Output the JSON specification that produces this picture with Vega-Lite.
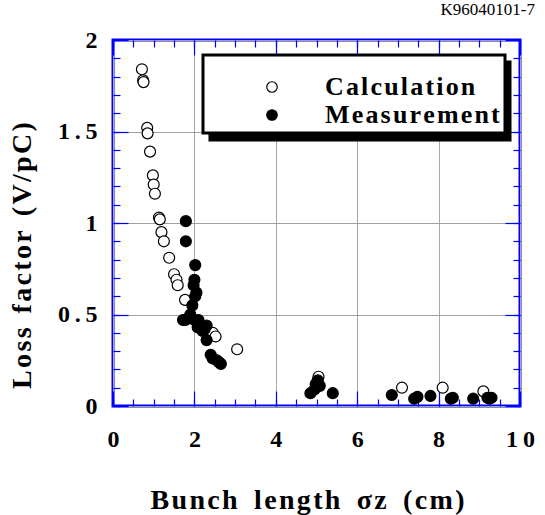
{
  "$schema": "https://vega.github.io/schema/vega-lite/v6.json",
  "width": 407,
  "height": 366,
  "autosize": {"type": "none"},
  "padding": {"left": 113, "top": 40, "right": 25, "bottom": 109},
  "background": "white",
  "title": {"text": "K96040101-7", "anchor": "end", "frame": "group", "font": "Liberation Serif", "fontSize": 17, "fontWeight": "normal", "color": "black", "dx": 15, "offset": 9},
  "config": {
    "view": {"stroke": "#0000ff", "strokeWidth": 3},
    "axis": {"labelFont": "Liberation Serif", "labelFontWeight": "bold", "labelColor": "black", "titleFont": "Liberation Serif", "titleFontWeight": "bold", "titleColor": "black", "tickColor": "#0000ff", "tickWidth": 1.2, "domain": false},
    "legend": {"strokeColor": "black", "strokeWidth": 3, "fillColor": "white"}
  },
  "datasets": {
    "pts": [
      {"x": 0.71, "y": 1.84, "series": "Calculation"},
      {"x": 0.74, "y": 1.78, "series": "Calculation"},
      {"x": 0.75, "y": 1.77, "series": "Calculation"},
      {"x": 0.84, "y": 1.52, "series": "Calculation"},
      {"x": 0.85, "y": 1.49, "series": "Calculation"},
      {"x": 0.91, "y": 1.39, "series": "Calculation"},
      {"x": 0.98, "y": 1.26, "series": "Calculation"},
      {"x": 1.0, "y": 1.21, "series": "Calculation"},
      {"x": 1.03, "y": 1.16, "series": "Calculation"},
      {"x": 1.13, "y": 1.03, "series": "Calculation"},
      {"x": 1.15, "y": 1.02, "series": "Calculation"},
      {"x": 1.19, "y": 0.95, "series": "Calculation"},
      {"x": 1.25, "y": 0.9, "series": "Calculation"},
      {"x": 1.38, "y": 0.81, "series": "Calculation"},
      {"x": 1.5, "y": 0.72, "series": "Calculation"},
      {"x": 1.56, "y": 0.69, "series": "Calculation"},
      {"x": 1.59, "y": 0.66, "series": "Calculation"},
      {"x": 1.77, "y": 0.58, "series": "Calculation"},
      {"x": 2.45, "y": 0.4, "series": "Calculation"},
      {"x": 2.52, "y": 0.38, "series": "Calculation"},
      {"x": 3.05, "y": 0.31, "series": "Calculation"},
      {"x": 5.05, "y": 0.16, "series": "Calculation"},
      {"x": 7.1, "y": 0.1, "series": "Calculation"},
      {"x": 8.1, "y": 0.1, "series": "Calculation"},
      {"x": 9.1, "y": 0.08, "series": "Calculation"},
      {"x": 1.79, "y": 1.01, "series": "Measurement"},
      {"x": 1.79, "y": 0.9, "series": "Measurement"},
      {"x": 2.02, "y": 0.77, "series": "Measurement"},
      {"x": 2.0, "y": 0.69, "series": "Measurement"},
      {"x": 1.98, "y": 0.66, "series": "Measurement"},
      {"x": 2.05, "y": 0.62, "series": "Measurement"},
      {"x": 2.02, "y": 0.6, "series": "Measurement"},
      {"x": 1.95, "y": 0.55, "series": "Measurement"},
      {"x": 1.9, "y": 0.5, "series": "Measurement"},
      {"x": 1.78, "y": 0.47, "series": "Measurement"},
      {"x": 1.72, "y": 0.47, "series": "Measurement"},
      {"x": 1.85, "y": 0.48, "series": "Measurement"},
      {"x": 2.0, "y": 0.47, "series": "Measurement"},
      {"x": 2.1, "y": 0.47, "series": "Measurement"},
      {"x": 2.15, "y": 0.44, "series": "Measurement"},
      {"x": 2.25, "y": 0.42, "series": "Measurement"},
      {"x": 2.08, "y": 0.43, "series": "Measurement"},
      {"x": 2.3, "y": 0.44, "series": "Measurement"},
      {"x": 2.2, "y": 0.41, "series": "Measurement"},
      {"x": 2.3, "y": 0.36, "series": "Measurement"},
      {"x": 2.4, "y": 0.28, "series": "Measurement"},
      {"x": 2.45, "y": 0.26, "series": "Measurement"},
      {"x": 2.55, "y": 0.25, "series": "Measurement"},
      {"x": 2.6, "y": 0.24, "series": "Measurement"},
      {"x": 2.65, "y": 0.23, "series": "Measurement"},
      {"x": 4.85, "y": 0.07, "series": "Measurement"},
      {"x": 4.95, "y": 0.09, "series": "Measurement"},
      {"x": 5.03, "y": 0.14, "series": "Measurement"},
      {"x": 5.08, "y": 0.11, "series": "Measurement"},
      {"x": 4.98, "y": 0.12, "series": "Measurement"},
      {"x": 5.4, "y": 0.07, "series": "Measurement"},
      {"x": 6.85, "y": 0.06, "series": "Measurement"},
      {"x": 7.4, "y": 0.04, "series": "Measurement"},
      {"x": 7.48, "y": 0.05, "series": "Measurement"},
      {"x": 7.8, "y": 0.055, "series": "Measurement"},
      {"x": 8.3, "y": 0.04, "series": "Measurement"},
      {"x": 8.35, "y": 0.045, "series": "Measurement"},
      {"x": 8.85, "y": 0.04, "series": "Measurement"},
      {"x": 9.2, "y": 0.045, "series": "Measurement"},
      {"x": 9.3, "y": 0.045, "series": "Measurement"},
      {"x": 9.25, "y": 0.04, "series": "Measurement"}
    ]
  },
  "data": {"name": "pts"},
  "layer": [
    {
      "transform": [{"filter": "false"}],
      "mark": {"type": "point"},
      "encoding": {
        "x": {"field": "x", "type": "quantitative", "axis": {"orient": "bottom", "values": [0, 0.5, 1, 1.5, 2, 2.5, 3, 3.5, 4, 4.5, 5, 5.5, 6, 6.5, 7, 7.5, 8, 8.5, 9, 9.5, 10], "labels": false, "grid": false, "tickSize": -7, "title": null}},
        "y": {"field": "y", "type": "quantitative", "axis": {"orient": "left", "values": [0, 0.1, 0.2, 0.3, 0.4, 0.5, 0.6, 0.7, 0.8, 0.9, 1, 1.1, 1.2, 1.3, 1.4, 1.5, 1.6, 1.7, 1.8, 1.9, 2], "labels": false, "grid": false, "tickSize": -7, "title": null}},
        "size": {"field": "shadow", "type": "nominal", "scale": {"domain": ["Calc", "Meas"], "range": [110, 110]},
          "legend": {"orient": "none", "legendX": 97, "legendY": 22, "title": "\u00a0", "titleFontSize": 10, "titlePadding": 4, "padding": 5, "fillColor": "black", "strokeColor": "black", "labelFont": "Liberation Serif", "labelFontSize": 26, "labelFontWeight": "bold", "labelColor": "black", "labelLimit": 400, "symbolType": "circle", "symbolFillColor": "black", "symbolStrokeColor": "black", "symbolOffset": 222, "labelOffset": 42, "rowPadding": 2, "labelExpr": "''"}}
      }
    },
    {
      "mark": {"type": "point", "shape": "circle", "size": 120, "filled": true, "stroke": "black", "strokeWidth": 1.2, "opacity": 1},
      "encoding": {
        "x": {"field": "x", "type": "quantitative", "scale": {"domain": [0, 10], "nice": false, "zero": false},
          "axis": {"orient": "bottom", "values": [0, 2, 4, 6, 8, 10], "ticks": false, "grid": true, "gridColor": "#a8a8a8", "gridWidth": 1, "labelFont": "Liberation Serif", "labelFontWeight": "bold", "labelFontSize": 24, "labelPadding": 21, "labelExpr": "datum.value == 10 ? '1\u20090' : datum.label", "labelFlush": false,
            "title": "B\u200au\u200an\u200ac\u200ah\u00a0\u200a\u00a0l\u200ae\u200an\u200ag\u200at\u200ah\u00a0\u200a\u00a0\u03c3\u200az\u00a0\u200a\u00a0(\u200ac\u200am\u200a)", "titleFont": "Liberation Serif", "titleFontWeight": "bold", "titleFontSize": 28, "titleX": 194, "titleY": 94, "titleBaseline": "middle", "titleAlign": "center"}},
        "y": {"field": "y", "type": "quantitative", "scale": {"domain": [0, 2], "nice": false, "zero": false},
          "axis": {"orient": "left", "values": [0, 0.5, 1, 1.5, 2], "format": "~g", "ticks": false, "grid": true, "gridColor": "#a0a0a0", "gridWidth": 1, "labelFont": "Liberation Serif", "labelFontWeight": "bold", "labelFontSize": 24, "labelPadding": 16, "labelExpr": "replace(datum.label, '.', '\u2009.\u2009')", "labelFlush": false,
            "title": "L\u200ao\u200as\u200as\u00a0\u00a0f\u200aa\u200ac\u200at\u200ao\u200ar\u00a0\u00a0(\u200aV\u200a/\u200ap\u200aC\u200a)", "titleFont": "Liberation Serif", "titleFontWeight": "bold", "titleFontSize": 28, "titleX": -91, "titleY": 215, "titleAngle": -90, "titleBaseline": "middle", "titleAlign": "center"}},
        "fill": {"field": "series", "type": "nominal", "scale": {"domain": ["Calculation", "Measurement"], "range": ["white", "black"]},
          "legend": {"orient": "none", "legendX": 90, "legendY": 15, "title": " ", "titleFontSize": 10, "titlePadding": 4, "padding": 5, "labelFont": "Liberation Serif", "labelFontSize": 26, "labelFontWeight": "bold", "labelColor": "black", "labelLimit": 400, "symbolType": "circle", "symbolSize": 110, "symbolStrokeColor": "black", "symbolStrokeWidth": 1.2, "symbolOffset": 51, "labelOffset": 40, "rowPadding": 2, "labelExpr": "join(split(datum.label, ''), '\u200a')"}}
      }
    },
    {
      "transform": [{"filter": "false"}],
      "mark": {"type": "point"},
      "encoding": {
        "x": {"field": "x", "type": "quantitative", "axis": {"orient": "bottom", "values": [0, 2, 4, 6, 8, 10], "labels": false, "grid": false, "tickSize": -15, "title": null}},
        "y": {"field": "y", "type": "quantitative", "axis": {"orient": "left", "values": [0, 0.5, 1, 1.5, 2], "labels": false, "grid": false, "tickSize": -15, "title": null}}
      }
    },
    {
      "transform": [{"filter": "false"}],
      "mark": {"type": "point"},
      "encoding": {
        "x": {"field": "x", "type": "quantitative", "axis": {"orient": "top", "values": [0, 0.5, 1, 1.5, 2, 2.5, 3, 3.5, 4, 4.5, 5, 5.5, 6, 6.5, 7, 7.5, 8, 8.5, 9, 9.5, 10], "labels": false, "grid": false, "tickSize": -7, "title": null}},
        "y": {"field": "y", "type": "quantitative", "axis": {"orient": "right", "values": [0, 0.1, 0.2, 0.3, 0.4, 0.5, 0.6, 0.7, 0.8, 0.9, 1, 1.1, 1.2, 1.3, 1.4, 1.5, 1.6, 1.7, 1.8, 1.9, 2], "labels": false, "grid": false, "tickSize": -7, "title": null}}
      }
    },
    {
      "transform": [{"filter": "false"}],
      "mark": {"type": "point"},
      "encoding": {
        "x": {"field": "x", "type": "quantitative", "axis": {"orient": "top", "values": [0, 2, 4, 6, 8, 10], "labels": false, "grid": false, "tickSize": -15, "title": null}},
        "y": {"field": "y", "type": "quantitative", "axis": {"orient": "right", "values": [0, 0.5, 1, 1.5, 2], "labels": false, "grid": false, "tickSize": -15, "title": null}}
      }
    }
  ],
  "resolve": {"axis": {"x": "independent", "y": "independent"}}
}
